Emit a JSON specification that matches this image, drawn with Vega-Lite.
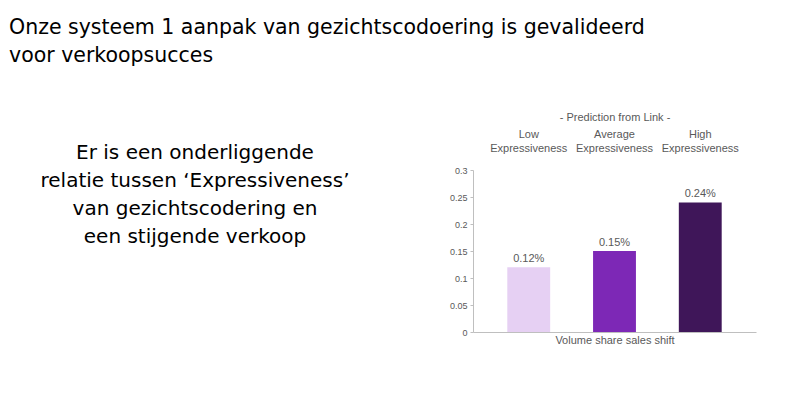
{
  "$schema": "https://vega.github.io/schema/vega-lite/v6.json",
  "background": "white",
  "padding": {"left": 9, "top": 17, "right": 5, "bottom": 5},
  "title": {
    "text": ["Onze systeem 1 aanpak van gezichtscodoering is gevalideerd", "voor verkoopsucces"],
    "anchor": "start",
    "frame": "bounds",
    "font": "DejaVu Sans",
    "fontSize": 20.5,
    "fontWeight": "normal",
    "lineHeight": 28,
    "color": "#000000",
    "offset": 45
  },
  "config": {"view": {"stroke": null}},
  "spacing": 68,
  "hconcat": [
    {
      "width": 372,
      "height": 224,
      "data": {"values": [
        {"line": 1, "text": "Er is een onderliggende"},
        {"line": 2, "text": "relatie tussen ‘Expressiveness’"},
        {"line": 3, "text": "van gezichtscodering en"},
        {"line": 4, "text": "een stijgende verkoop"}
      ]},
      "mark": {"type": "text", "font": "DejaVu Sans", "fontSize": 20, "color": "#000000", "baseline": "middle", "align": "center"},
      "encoding": {
        "y": {"field": "line", "type": "quantitative", "axis": null, "scale": {"domain": [1.6, 9.6], "reverse": true, "nice": false, "zero": false}},
        "text": {"field": "text"}
      }
    },
    {
      "width": 283,
      "height": 162,
      "data": {"values": [
        {"level": "Low Expressiveness", "value": 0.12, "label": "0.12%"},
        {"level": "Average Expressiveness", "value": 0.15, "label": "0.15%"},
        {"level": "High Expressiveness", "value": 0.24, "label": "0.24%"}
      ]},
      "encoding": {
        "y": {
          "field": "value", "type": "quantitative",
          "scale": {"domain": [0, 0.3]},
          "axis": {
            "values": [0, 0.05, 0.1, 0.15, 0.2, 0.25, 0.3],
            "format": "~g",
            "title": null,
            "grid": false,
            "domainColor": "#bfbfbf",
            "tickColor": "#bfbfbf",
            "tickSize": 3,
            "labelFont": "Liberation Sans",
            "labelFontSize": 9,
            "labelColor": "#595959",
            "labelPadding": 3
          }
        }
      },
      "layer": [
        {
          "mark": {"type": "bar"},
          "encoding": {
            "x": {
              "field": "level", "type": "nominal", "sort": null,
              "scale": {"paddingInner": 0.5, "paddingOuter": 0.4},
              "axis": {
                "orient": "top",
                "title": "- Prediction from Link -",
                "titleFont": "Liberation Sans",
                "titleFontSize": 11,
                "titleFontWeight": "normal",
                "titleColor": "#595959",
                "titlePadding": 6,
                "labelExpr": "split(datum.label, ' ')",
                "labelFont": "Liberation Sans",
                "labelFontSize": 11,
                "labelLineHeight": 14,
                "labelColor": "#595959",
                "labelAngle": 0,
                "labelPadding": 31,
                "ticks": false,
                "domain": false
              }
            },
            "color": {
              "field": "level", "type": "nominal", "legend": null,
              "scale": {
                "domain": ["Low Expressiveness", "Average Expressiveness", "High Expressiveness"],
                "range": ["#e6d0f3", "#7d28b6", "#3f1659"]
              }
            }
          }
        },
        {
          "mark": {"type": "text", "dy": -8, "font": "Liberation Sans", "fontSize": 11, "color": "#595959"},
          "encoding": {
            "x": {
              "field": "level", "type": "nominal", "sort": null,
              "axis": {
                "orient": "bottom",
                "title": "Volume share sales shift",
                "titleFont": "Liberation Sans",
                "titleFontSize": 11,
                "titleFontWeight": "normal",
                "titleColor": "#595959",
                "titlePadding": 2,
                "labels": false,
                "ticks": false,
                "domain": true,
                "domainColor": "#bfbfbf"
              }
            },
            "text": {"field": "label"}
          }
        }
      ],
      "resolve": {"axis": {"x": "independent"}}
    }
  ]
}
